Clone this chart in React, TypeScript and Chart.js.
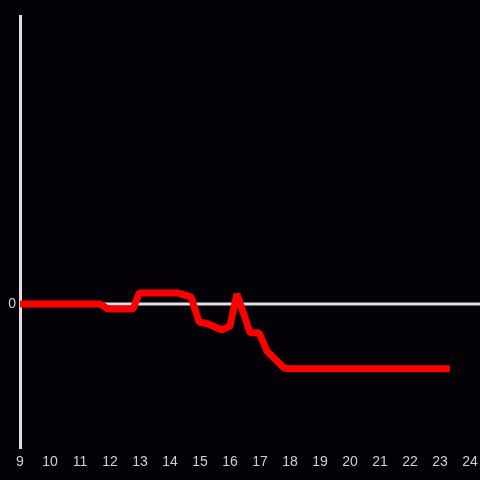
import React, { useEffect, useRef } from "react";
import { Chart, registerables } from "chart.js";

Chart.register(...registerables);

const xValues = [9, 11.67, 11.93, 12.77, 12.97, 14.27, 14.7, 14.97, 15.27, 15.73, 16.0, 16.23, 16.67, 16.97, 17.23, 17.8, 18.0, 23.33];
const yValues = [0, 0, -3.5, -3.5, 7.6, 7.6, 4.9, -12.5, -13.9, -18, -15.3, 7.0, -20, -20, -32.6, -44.4, -45, -45];
const xTickValues = [9, 10, 11, 12, 13, 14, 15, 16, 17, 18, 19, 20, 21, 22, 23, 24];
const yTickValues = [0];

const BG = "#040206";
const AXIS = "#e0e0e0";
const TEXT = "#d0d0d0";

export default function App() {
  const ref = useRef<HTMLCanvasElement | null>(null);

  useEffect(() => {
    if (!ref.current) return;
    const bgPlugin = {
      id: "bg",
      beforeDraw(chart: any) {
        const ctx = chart.ctx;
        ctx.save();
        ctx.fillStyle = BG;
        ctx.fillRect(0, 0, chart.width, chart.height);
        ctx.restore();
      },
      beforeDatasetsDraw(chart: any) {
        const ctx = chart.ctx;
        const y = chart.scales.y.getPixelForValue(0);
        ctx.save();
        ctx.strokeStyle = AXIS;
        ctx.lineWidth = 3;
        ctx.beginPath();
        ctx.moveTo(chart.chartArea.left, y);
        ctx.lineTo(chart.width, y);
        ctx.stroke();
        ctx.restore();
      },
    };
    const chart = new Chart(ref.current, {
      type: "line",
      data: {
        datasets: [
          {
            data: xValues.map((x, i) => ({ x, y: yValues[i] })),
            borderColor: "#ff0000",
            borderWidth: 7,
            borderJoinStyle: "bevel",
            pointRadius: 0,
            tension: 0,
            fill: false,
          },
        ],
      },
      options: {
        responsive: false,
        animation: false,
        layout: { padding: { top: 16, right: 10, left: 0, bottom: 0 } },
        plugins: { legend: { display: false }, tooltip: { enabled: false } },
        scales: {
          x: {
            type: "linear",
            min: 9,
            max: 24,
            afterBuildTicks: (s: any) => {
              s.ticks = xTickValues.map((v) => ({ value: v }));
            },
            afterFit: (s: any) => {
              s.height = 32;
              s.paddingLeft = 0;
              s.paddingRight = 0;
            },
            grid: { display: false, drawTicks: false },
            border: { display: false },
            ticks: {
              color: TEXT,
              font: { family: "Liberation Sans", size: 14 },
              padding: 6,
              maxRotation: 0,
              autoSkip: false,
            },
          },
          y: {
            type: "linear",
            min: -100,
            max: 200,
            afterBuildTicks: (s: any) => {
              s.ticks = yTickValues.map((v) => ({ value: v }));
            },
            afterFit: (s: any) => {
              s.width = 20;
              s.paddingTop = 0;
              s.paddingBottom = 0;
            },
            grid: { display: false, drawTicks: false },
            border: { display: true, color: AXIS, width: 3 },
            ticks: {
              color: TEXT,
              font: { family: "Liberation Sans", size: 14 },
              padding: 4,
            },
          },
        },
      },
      plugins: [bgPlugin],
    });
    return () => chart.destroy();
  }, []);

  return (
    <div style={{ position: "fixed", left: 0, top: 0, width: 480, height: 480, background: BG }}>
      <canvas ref={ref} width={480} height={480} />
    </div>
  );
}
